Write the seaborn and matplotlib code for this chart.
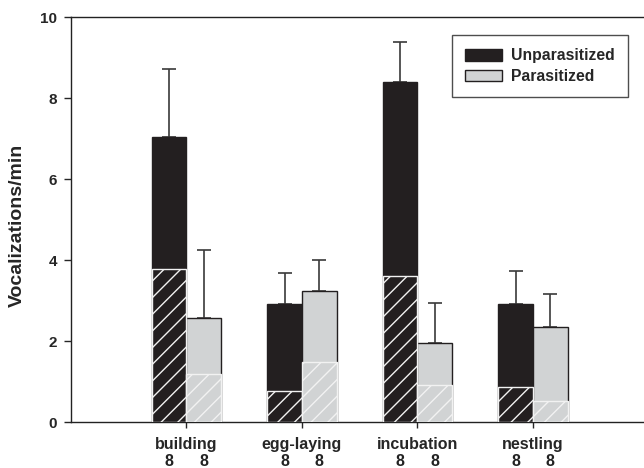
import pandas as pd
import matplotlib.pyplot as plt
import seaborn as sns

# data
stages = ['building', 'egg-laying', 'incubation', 'nestling']
groups = ['Unparasitized', 'Parasitized']
unpara_mean = [7.03, 2.92, 8.40, 2.91]
para_mean = [2.56, 3.24, 1.94, 2.35]
unpara_err = [1.69, 0.76, 0.99, 0.82]
para_err = [1.70, 0.76, 1.01, 0.82]
unpara_inner = [3.79, 0.77, 3.60, 0.86]
para_inner = [1.18, 1.49, 0.91, 0.52]
n_unpara = [8, 8, 8, 8]
n_para = [8, 8, 8, 8]

df = pd.DataFrame({
    'stage': stages * 2,
    'group': [groups[0]] * 4 + [groups[1]] * 4,
    'mean': unpara_mean + para_mean,
    'err': unpara_err + para_err,
    'inner': unpara_inner + para_inner,
    'n': n_unpara + n_para,
})

sns.set_style('white')
plt.rcParams['font.family'] = ['Liberation Sans', 'DejaVu Sans']
plt.rcParams['font.weight'] = 'bold'
plt.rcParams['hatch.linewidth'] = 1.0

dark = '#231f20'
light = '#d1d3d4'

fig = plt.figure(figsize=(6.44, 4.68), dpi=100)
ax = fig.add_axes([70.7 / 644, 1 - 422 / 468, (644 - 70.7) / 644, (422 - 17.3) / 468])

# outer bars
sns.barplot(data=df, x='stage', y='mean', hue='group', order=stages, hue_order=groups,
            palette=[dark, light], width=0.6, errorbar=None, edgecolor=dark,
            linewidth=1, saturation=1, ax=ax, legend=False, zorder=2)

# inner hatched bars
sns.barplot(data=df, x='stage', y='inner', hue='group', order=stages, hue_order=groups,
            palette=[dark, light], width=0.6, errorbar=None, edgecolor='white',
            linewidth=1, saturation=1, ax=ax, legend=False, zorder=3)

outer_c = ax.containers[:2]
inner_c = ax.containers[2:4]
outer = [p for c in outer_c for p in c]
for c in inner_c:
    for p in c:
        p.set_hatch('//')
        p.set_edgecolor('#f2f2f2')

# upward-only error bars
for p, e in zip(outer, df['err']):
    cx = p.get_x() + p.get_width() / 2
    h = p.get_height()
    ax.errorbar(cx, h, yerr=[[0], [e]], fmt='none', ecolor='#3a3a3a',
                elinewidth=1.2, capsize=4.7, capthick=1.2, zorder=1)

ax.set_xlim(-1.0, 3.96)
ax.set_ylim(0, 10)
ax.set_yticks([0, 2, 4, 6, 8, 10])
ax.set_xlabel('')
ax.set_ylabel('Vocalizations/min', fontsize=14, fontweight='bold')
ax.yaxis.set_label_coords(-0.078, 0.485)
ax.tick_params(axis='y', direction='out', length=5, width=1, labelsize=11, pad=5, left=True)
ax.tick_params(axis='x', direction='out', length=4.3, width=1, labelsize=11.5, pad=6.5, bottom=True)
for lab in ax.get_xticklabels() + ax.get_yticklabels():
    lab.set_fontweight('bold')

# sample sizes under each bar
for p, n in zip(outer, df['n']):
    cx = p.get_x() + p.get_width() / 2
    ax.text(cx, -0.0964, str(n), transform=ax.get_xaxis_transform(), ha='center', va='center',
            fontsize=11.5, fontweight='bold', color='#222222')

for s in ['left', 'bottom', 'top']:
    ax.spines[s].set_color('#222222')
    ax.spines[s].set_linewidth(1)
ax.spines['right'].set_visible(False)

handles = [outer_c[0][0], outer_c[1][0]]
leg = ax.legend(handles, groups, loc='upper right', bbox_to_anchor=(0.972, 0.956),
                frameon=True, fancybox=False,
                fontsize=11.3, handlelength=2.35, handleheight=0.76, borderpad=0.85,
                labelspacing=0.34, handletextpad=0.57, borderaxespad=0)
leg.get_frame().set_edgecolor('#222222')
leg.get_frame().set_linewidth(1)
for t in leg.get_texts():
    t.set_fontweight('bold')

fig.savefig('out.png', dpi=100)
